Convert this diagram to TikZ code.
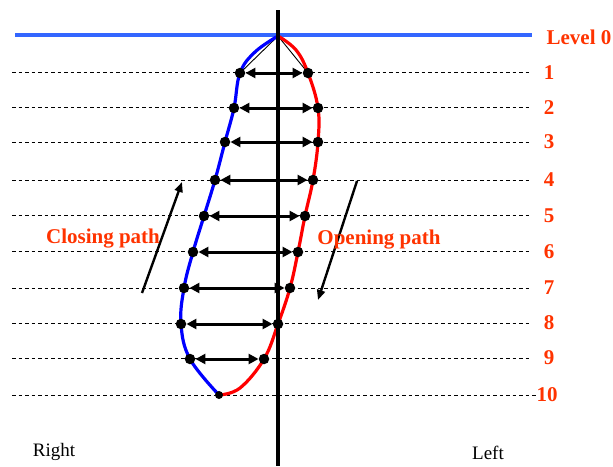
\documentclass[tikz,border=0pt]{standalone}
\usepackage{fontspec}
\setmainfont{Liberation Serif}
\usetikzlibrary{arrows.meta}
\definecolor{lblred}{RGB}{255,51,0}
\definecolor{lvlblue}{RGB}{51,102,255}
\definecolor{curveblue}{RGB}{0,0,255}
\definecolor{curvered}{RGB}{255,0,0}
\begin{document}
\begin{tikzpicture}[x=1pt,y=-1pt,
  dot/.style={circle,fill=black,inner sep=0pt,minimum size=10.5pt},
  lvl/.style={draw=black,line width=0.8pt,dash pattern=on 3.5pt off 3pt},
  dblarrow/.style={{Triangle[length=10pt,width=10pt]}-{Triangle[length=10pt,width=10pt]},line width=3pt},
  patharrow/.style={-{Triangle[length=10pt,width=8pt]},line width=2.4pt},
  redlbl/.style={text=lblred,font=\fontsize{21}{21}\selectfont\bfseries,inner sep=0pt},
  sidelbl/.style={font=\fontsize{19}{19}\selectfont,inner sep=0pt}]
\useasboundingbox (0,0) rectangle (613,466);
% level lines
\foreach \y in {72,107,142,180,215,251,288,323,358}{\draw[lvl] (12,\y) -- (532,\y);}
\draw[lvl] (12,395) -- (537,395);
\draw[lvlblue,line width=3.4pt] (15,35) -- (532,35);
% labels
\node[redlbl] (l0) at (579,37) {Level 0};
\foreach \n/\y in {1/73,2/108,3/142,4/180,5/216,6/252,7/288,8/323,9/358}{\node[redlbl] (n\n) at (549,\y) {\n};}
\node[redlbl] (n10) at (547,395) {10};
% coordinates
\coordinate (apex) at (278,36);
\coordinate (L1) at (240,73);
\coordinate (L2) at (234,108);
\coordinate (L3) at (225,142);
\coordinate (L4) at (215,180);
\coordinate (L5) at (204,216);
\coordinate (L6) at (193,252);
\coordinate (L7) at (184,288);
\coordinate (L8) at (181,324);
\coordinate (L9) at (190,359);
\coordinate (P10) at (219,395);
\coordinate (R1) at (308,73);
\coordinate (R2) at (318,108);
\coordinate (R3) at (318,142);
\coordinate (R4) at (313,180);
\coordinate (R5) at (305,216);
\coordinate (R6) at (298,252);
\coordinate (R7) at (290,288);
\coordinate (R8) at (278,324);
\coordinate (R9) at (264,359);
% thin lines from apex
\draw[line width=0.9pt] (apex) -- (L1);
\draw[line width=0.9pt] (apex) -- (R1);
% curves
\draw[curveblue,line width=3.2pt] plot[smooth,tension=0.65] coordinates {(278,36) (255,52) (240,73) (234,108) (225,142) (215,180) (204,216) (193,252) (184,288) (181,324) (190,359) (219,395)};
\draw[curvered,line width=3.2pt] plot[smooth,tension=0.65] coordinates {(278,36) (296,50) (308,73) (318,108) (318,142) (313,180) (305,216) (298,252) (290,288) (278,324) (264,359) (240,388) (219,395)};
% vertical axis
\coordinate (vtop) at (278,10);
\coordinate (vbot) at (278,466);
\draw[line width=3.4pt] (vtop) -- (vbot);
% dots
\foreach \i in {1,...,9}{
  \node[dot] (dl\i) at (L\i) {};
  \node[dot] (dr\i) at (R\i) {};
}
\node[dot,minimum size=8pt] (d10) at (P10) {};
\foreach \i in {1,...,9}{\draw[dblarrow] (dl\i) -- (dr\i);}
% path arrows
\coordinate (cs) at (142,293);
\coordinate (ce) at (182,182);
\draw[patharrow] (cs) -- (ce);
\coordinate (os) at (357,181);
\coordinate (oe) at (318,300);
\draw[patharrow] (os) -- (oe);
\node[redlbl] (cl) at (103,239) {Closing path};
\node[redlbl] (ol) at (379,240) {Opening path};
\node[sidelbl] (rt) at (54,452) {Right};
\node[sidelbl] (lt) at (488,453) {Left};
\end{tikzpicture}
\end{document}
